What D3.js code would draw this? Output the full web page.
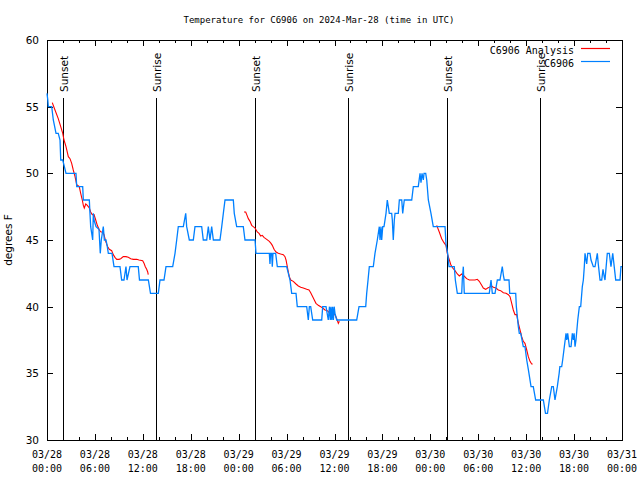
<!DOCTYPE html>
<html>
<head>
<meta charset="utf-8">
<script src="https://cdn.jsdelivr.net/npm/d3@7"></script>
<style>
body{margin:0;background:#fff;}
svg{display:block;}
</style>
</head>
<body>
<svg id="chart" width="640" height="480"></svg>
<script>
// ---- DATA (time in hours since 03/28 00:00 UTC, temperature in deg F) ----
const analysisSeg1 = [[0.66,55.3],[1.00,54.75],[1.41,54.1],[1.72,53.5],[1.97,53],[2.13,52.5],[2.38,52],[2.67,51.25],[2.88,51.1],[3.09,50.75],[3.29,50.25],[3.51,49.75],[3.72,49.15],[4.04,49],[4.22,48.5],[4.42,48],[4.55,47.6],[4.67,47.4],[4.85,47.7],[5.05,47.6],[5.30,47.4],[5.47,47.1],[5.67,46.9],[5.89,46.9],[6.10,46.5],[6.30,46.1],[6.55,45.75],[6.76,45.6],[6.97,45.6],[7.14,45.4],[7.35,44.9],[7.60,44.5],[7.80,44.3],[8.10,44.2],[8.30,43.9],[8.51,43.7],[8.73,43.55],[9.02,43.55],[9.23,43.6],[9.55,43.75],[9.89,43.75],[10.18,43.7],[10.48,43.6],[10.81,43.55],[11.23,43.55],[11.52,43.5],[11.98,43.45],[12.15,43.25],[12.31,43],[12.48,42.8],[12.61,42.6],[12.68,42.4]];
const analysisSeg2 = [[24.67,47.1],[24.88,47.1],[25.01,46.9],[25.21,46.6],[25.42,46.4],[25.63,46.1],[25.83,46],[26.05,45.9],[26.33,45.6],[26.55,45.5],[26.76,45.3],[26.96,45.35],[27.17,45.2],[27.51,45.05],[27.84,44.9],[28.05,44.75],[28.21,44.6],[28.43,44.3],[28.68,44.1],[28.96,44],[29.26,43.95],[29.59,43.9],[29.80,43.75],[29.93,43.5],[30.09,43],[30.22,42.6],[30.34,42.25],[30.52,42],[30.84,41.9],[31.18,41.7],[31.47,41.55],[31.77,41.45],[32.09,41.4],[32.52,41.3],[32.81,41.25],[33.02,41.05],[33.27,40.75],[33.47,40.5],[33.68,40.25],[33.97,40.1],[34.27,40],[34.52,39.9],[34.81,39.75],[35.10,39.7],[35.35,39.55],[35.65,39.6],[35.85,39.5],[36.06,39.4],[36.28,39.1],[36.48,38.75],[36.61,38.9]];
const analysisSeg3 = [[48.80,46.1],[49.12,45.6],[49.42,45.1],[49.71,44.8],[49.96,44.6],[50.12,44],[50.38,43.5],[50.59,43.1],[50.80,42.9],[51.09,42.7],[51.38,42.45],[51.63,42.3],[51.93,42.45],[52.22,42.3],[52.55,42.1],[52.88,42],[53.31,42],[53.59,42],[53.88,42.05],[54.13,41.9],[54.43,41.6],[54.63,41.4],[54.93,41.3],[55.18,41.4],[55.38,41.45],[55.68,41.55],[55.89,41.45],[56.22,41.4],[56.51,41.25],[56.81,41.2],[57.14,41.05],[57.48,41],[57.77,40.9],[57.98,40.75],[58.19,40.25],[58.39,39.75],[58.60,39.4],[58.81,39.4],[59.02,38.75],[59.23,38.25],[59.44,37.75],[59.64,37.4],[59.85,37.25],[60.07,36.75],[60.27,36.25],[60.48,35.9],[60.69,35.7],[60.82,35.7]];

const observed = [[0,56],[0.10,55.5],[0.16,55],[0.59,55],[0.79,54],[1.13,53],[1.41,53],[1.63,52.5],[1.72,51],[1.97,51],[2.38,50],[3.63,50],[3.72,49],[4.47,49],[4.55,48],[5.30,48],[5.38,47],[5.47,46],[5.60,45.5],[5.72,45],[5.80,47],[5.89,46.5],[6.14,46],[6.51,45.8],[6.67,44],[6.80,45],[7.05,46],[7.18,45],[7.39,45],[7.55,44.5],[7.68,44],[8.14,44],[8.39,43],[9.14,43],[9.35,42],[9.64,42],[9.89,43],[10.02,42],[10.39,43],[11.43,43],[11.58,42],[12.69,42],[12.96,41],[13.94,41],[14.15,42],[14.65,42],[14.90,43],[15.74,43],[16.03,44],[16.24,45],[16.44,46],[17.07,46],[17.37,47],[17.49,46],[17.82,45],[18.32,45],[18.53,46],[19.37,46],[19.57,45],[20.00,45],[20.20,46],[20.41,45],[20.62,46],[20.83,45],[21.66,45],[21.88,46],[22.08,47],[22.29,48],[23.33,48],[23.45,47],[23.75,46],[24.58,46],[24.79,45],[26.05,45],[26.17,44],[27.84,44],[27.92,43.2],[28.00,44],[28.13,44],[28.21,43],[28.30,44],[28.63,44],[28.84,43],[30.01,43],[30.22,42.5],[30.43,42],[30.64,41],[31.18,41],[31.34,40],[32.52,40],[32.72,39],[32.85,40],[33.02,40],[33.27,39],[34.40,39],[34.52,40],[34.94,40],[35.22,39],[35.37,40],[35.47,39],[35.56,40],[35.66,39],[35.76,40],[35.86,39],[35.96,40],[36.06,39.5],[36.28,39],[38.78,39],[39.07,40],[39.91,40],[40.03,41],[40.20,42],[40.36,43],[40.86,43],[41.07,44],[41.36,45],[41.61,46],[41.70,45],[41.82,46],[41.91,45],[42.04,46],[42.20,46],[42.45,47],[42.61,48],[42.74,47.5],[42.86,47],[43.16,47],[43.24,46.5],[43.36,45],[43.49,46.5],[43.58,47],[43.99,47],[44.12,48],[44.42,48],[44.54,47],[44.74,48],[45.67,48],[45.87,49],[46.49,49],[46.71,50],[46.83,49.3],[46.96,50],[47.12,49.5],[47.21,50],[47.42,50],[47.55,49.5],[47.75,48],[48.08,47],[48.37,46],[49.84,46],[49.96,44.7],[50.17,44],[50.34,43],[51.00,43],[51.13,42],[51.38,41],[51.93,41],[52.00,42],[52.13,43],[52.25,41],[55.38,41],[55.60,42],[55.76,41],[56.10,41],[56.39,42],[56.72,42],[57.01,43],[57.16,42.3],[57.26,42],[57.85,42],[57.94,41],[58.69,41],[58.77,40],[59.02,38.5],[59.14,38],[59.32,38],[59.64,37],[59.85,37],[60.07,36],[60.27,35.3],[60.61,34],[60.89,34],[61.19,33],[62.15,33],[62.42,32],[62.67,32],[62.90,33],[63.20,34],[63.40,34],[63.61,33],[63.90,34],[64.13,35],[64.22,35.5],[64.45,35.5],[64.57,36],[64.78,37],[64.99,38],[65.08,37.5],[65.20,38],[65.41,37],[65.62,37],[65.78,38],[65.91,37.5],[66.00,38],[66.12,37],[66.24,37.5],[66.46,39],[66.66,40],[66.83,40],[67.03,41.5],[67.16,42],[67.28,43],[67.37,44],[67.49,43.5],[67.58,43.2],[67.71,44],[67.99,44],[68.12,43.5],[68.41,43],[68.62,43],[68.91,44],[69.03,43.2],[69.25,42],[69.46,42],[69.62,42.8],[69.79,42.2],[69.87,42],[70.16,44],[70.41,44],[70.62,43],[70.84,44],[71.12,42.5],[71.21,42],[71.75,42],[71.87,43],[72.0,43]];

const sunEvents = [2.00, 13.65, 26.05, 37.69, 50.09, 61.73];
const sunLabels = ["Sunset","Sunrise","Sunset","Sunrise","Sunset","Sunrise"];
const xTickHours = [0,6,12,18,24,30,36,42,48,54,60,66,72];
const xTickDates = ["03/28","03/28","03/28","03/28","03/29","03/29","03/29","03/29","03/30","03/30","03/30","03/30","03/31"];
const xTickTimes = ["00:00","06:00","12:00","18:00","00:00","06:00","12:00","18:00","00:00","06:00","12:00","18:00","00:00"];
const yTicks = [30,35,40,45,50,55,60];
const seriesNames = ["C6906 Analysis","C6906"];
const seriesColors = ["#ff0000","#0080ff"];
const titleText = "Temperature for C6906 on 2024-Mar-28 (time in UTC)";
const yLabelText = "degrees F";

// ---- LAYOUT ----
const svg = d3.select("#chart");
const L = 47, R = 622, T = 40, B = 440;
const x = d3.scaleLinear().domain([0,72]).range([L,R]);
const y = d3.scaleLinear().domain([30,60]).range([B,T]);
const mono = "'DejaVu Sans Mono', monospace";
const sans = "'DejaVu Sans', sans-serif";

// minor ticks every 2 hours
const minorHours = d3.range(0,73,2).filter(h => h % 6 !== 0);

// border
svg.append("rect").attr("x",L+0.5).attr("y",T+0.5).attr("width",R-L).attr("height",B-T)
  .attr("fill","none").attr("stroke","#000").attr("shape-rendering","crispEdges");

const tickG = svg.append("g").attr("stroke","#000").attr("shape-rendering","crispEdges");
// x major ticks, bottom & top
xTickHours.forEach(h => {
  const px = Math.round(x(h))+0.5;
  tickG.append("line").attr("x1",px).attr("x2",px).attr("y1",B).attr("y2",B-6);
  tickG.append("line").attr("x1",px).attr("x2",px).attr("y1",T).attr("y2",T+6);
});
minorHours.forEach(h => {
  const px = Math.round(x(h))+0.5;
  tickG.append("line").attr("x1",px).attr("x2",px).attr("y1",B).attr("y2",B-3);
  tickG.append("line").attr("x1",px).attr("x2",px).attr("y1",T).attr("y2",T+3);
});
yTicks.forEach(v => {
  const py = Math.round(y(v))+0.5;
  tickG.append("line").attr("x1",L).attr("x2",L+6).attr("y1",py).attr("y2",py);
  tickG.append("line").attr("x1",R).attr("x2",R-6).attr("y1",py).attr("y2",py);
});

// x tick labels (two lines)
const xl = svg.append("g").attr("font-family",mono).attr("font-size","10px").attr("fill","#000").attr("text-anchor","middle");
xTickHours.forEach((h,i) => {
  xl.append("text").attr("x",x(h)).attr("y",458).text(xTickDates[i]);
  xl.append("text").attr("x",x(h)).attr("y",472).text(xTickTimes[i]);
});
// y tick labels
const yl = svg.append("g").attr("font-family",sans).attr("font-size","10.5px").attr("fill","#000").attr("text-anchor","end");
yTicks.forEach(v => {
  yl.append("text").attr("x",39).attr("y",y(v)+4).text(v);
});
// y axis label
svg.append("text").attr("transform","translate(12,240) rotate(-90)")
  .attr("text-anchor","middle").attr("font-family",sans).attr("font-size","10.5px").text(yLabelText);
// title
svg.append("text").attr("x",319).attr("y",23).attr("text-anchor","middle")
  .attr("font-family",mono).attr("font-size","9px").text(titleText);

// sunrise/sunset lines
const sg = svg.append("g");
sunEvents.forEach((h,i) => {
  const px = Math.round(x(h))+0.5;
  sg.append("line").attr("x1",px).attr("x2",px).attr("y1",98).attr("y2",B)
    .attr("stroke","#000").attr("stroke-width",1.4).attr("shape-rendering","crispEdges");
  sg.append("text").attr("transform",`translate(${px+4.5},92) rotate(-90)`)
    .attr("font-family",sans).attr("font-size","10.5px").attr("text-anchor","start").text(sunLabels[i]);
});

// lines
const line = d3.line().x(d => x(d[0])).y(d => y(d[1]));
[analysisSeg1, analysisSeg2, analysisSeg3].forEach(seg => {
  svg.append("path").datum(seg).attr("d",line).attr("fill","none")
    .attr("stroke",seriesColors[0]).attr("stroke-width",1.1);
});
svg.append("path").datum(observed).attr("d",line).attr("fill","none")
  .attr("stroke",seriesColors[1]).attr("stroke-width",1.3).attr("stroke-linejoin","miter");

// legend
const lg = svg.append("g").attr("font-family",mono).attr("font-size","10px");
seriesNames.forEach((n,i) => {
  const ly = 50 + i*13;
  lg.append("text").attr("x",574).attr("y",ly+4).attr("text-anchor","end").text(n);
  lg.append("line").attr("x1",581).attr("x2",610).attr("y1",ly-1.5).attr("y2",ly-1.5)
    .attr("stroke",seriesColors[i]).attr("stroke-width",1.2);
});
</script>
</body>
</html>
